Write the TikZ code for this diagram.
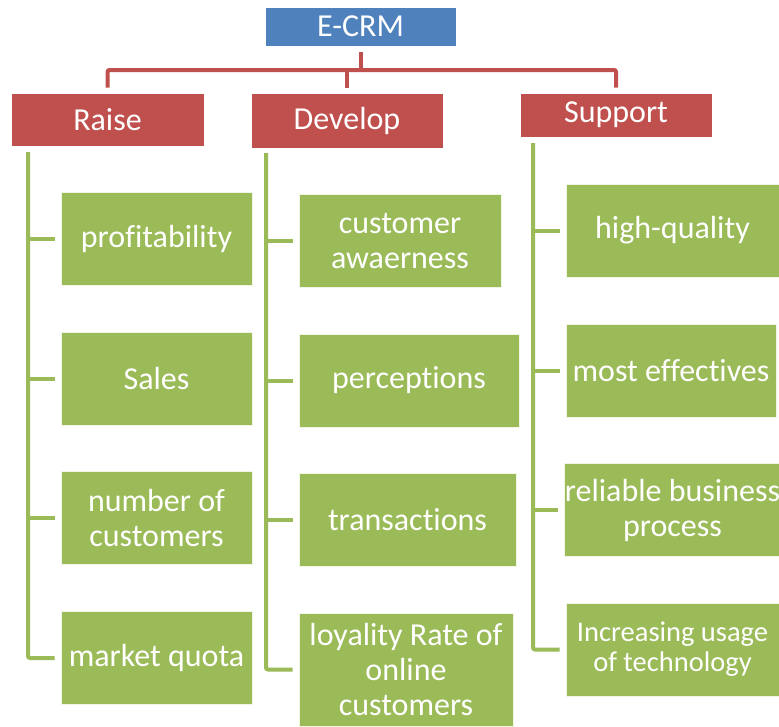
\documentclass[tikz,border=0pt]{standalone}
\usepackage{fontspec}
\setmainfont{Carlito}[Ligatures=NoCommon]
\usepackage{tikz}

\definecolor{ecrmblue}{HTML}{4F81BD}
\definecolor{headred}{HTML}{C0504D}
\definecolor{leafgreen}{HTML}{9BBB59}

\begin{document}
\begin{tikzpicture}[x=1pt,y=-1pt]
    \tikzstyle{every node}=[inner sep=0pt,align=center,text=white,font=\fontsize{32}{35}\selectfont];
    \tikzstyle{head}=[rectangle,fill=headred,draw=white,line width=0.8pt,minimum width=192pt];
    \tikzstyle{leaf}=[rectangle,fill=leafgreen,draw=white!85!leafgreen,line width=0.8pt,minimum height=93pt];
    \tikzstyle{redline}=[draw=headred,line width=4pt,rounded corners=2pt];
    \tikzstyle{greenline}=[draw=leafgreen,line width=4pt,rounded corners=2pt];

    \fill[white] (0,0) rectangle (779,726);
    \useasboundingbox (0,0) rectangle (779,726);

    % top of the tree
    \node[rectangle,fill=ecrmblue,draw=white,line width=0.8pt,minimum width=191pt,minimum height=39pt] (ecrm) at (360.5,26.5) {E-CRM};

    \node[head,minimum width=193pt,minimum height=53pt] (raise) at (107.5,119.5) {Raise};
    \node[head,minimum height=55pt] (develop) at (347,120.5) {Develop};
    \node[head,minimum height=44pt] (support) at (616,115) {Support};

    % Raise
    \node[leaf,minimum width=191pt] (r1) at (156.5,238.5) {profitability};
    \node[leaf,minimum width=191pt] (r2) at (156.5,378.5) {Sales};
    \node[leaf,minimum width=191pt] (r3) at (156.5,518) {number of\\customers};
    \node[leaf,minimum width=191pt] (r4) at (156.5,658) {market quota};

    % Develop
    \node[leaf,minimum width=202pt] (d1) at (400,240.5) {customer\\awaerness};
    \node[leaf,minimum width=220pt] (d2) at (409,380.5) {perceptions};
    \node[leaf,minimum width=217pt] (d3) at (407.5,519.5) {transactions};
    \node[leaf,minimum width=214pt,minimum height=113pt] (d4) at (406,669.5) {loyality Rate of\\online\\customers};

    % Support
    \node[leaf,minimum width=213pt] (s1) at (672.5,230.5) {high-quality};
    \node[leaf,minimum width=210pt] (s2) at (671,370.5) {most effectives};
    \node[leaf,minimum width=213pt] (s3) at (672.5,510) {reliable business\\process};
    \node[leaf,minimum width=213pt,font=\fontsize{28.5}{30}\selectfont] (s4) at (672.5,649.5) {Increasing usage\\of technology};

    % red bus
    \coordinate (bus) at (361,70);
    \draw[redline] ([yshift=-6pt]ecrm.south -| bus) -- (bus);
    \draw[redline] ([yshift=5pt]raise.north) |- (bus) -| ([yshift=5pt]support.north);
    \draw[redline] ([yshift=5pt]develop.north) -- (develop.north |- bus);

    % green spines
    \coordinate (rs) at (28,152);
    \coordinate (ds) at (266,153);
    \coordinate (ss) at (533,143);

    \draw[greenline] (rs) |- ([xshift=-6pt]r4.west);
    \draw[greenline] (ds) |- ([xshift=-6pt]d4.west);
    \draw[greenline] (ss) |- ([xshift=-6pt]s4.west);

    \foreach \n in {r1,r2,r3}
        \draw[greenline] (rs |- \n.west) -- ([xshift=-6pt]\n.west);
    \foreach \n in {d1,d2,d3}
        \draw[greenline] (ds |- \n.west) -- ([xshift=-6pt]\n.west);
    \foreach \n in {s1,s2,s3}
        \draw[greenline] (ss |- \n.west) -- ([xshift=-6pt]\n.west);

\end{tikzpicture}
\end{document}
